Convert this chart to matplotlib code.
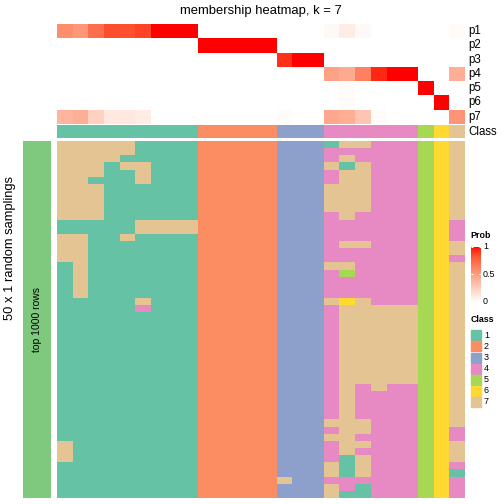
import numpy as np
import matplotlib
matplotlib.use("Agg")
import matplotlib.pyplot as plt
from matplotlib.colors import ListedColormap
from matplotlib.patches import Rectangle

plt.rcParams['font.family'] = ['Liberation Sans', 'DejaVu Sans']

# ---------------- data ----------------
title = "membership heatmap, k = 7"
row_title = "50 x 1 random samplings"
block_label = "top 1000 rows"
prob_names = ["p1", "p2", "p3", "p4", "p5", "p6", "p7"]
class_labels = ["1", "2", "3", "4", "5", "6", "7"]
class_colors = ["#66C2A5", "#FC8D62", "#8DA0CB", "#E78AC3", "#A6D854", "#FFD92F", "#E5C494"]

# consensus class of each of the 26 columns
col_class = [1]*9 + [2]*5 + [3]*3 + [4]*6 + [5, 6, 7]

p1 = [0.58, 0.53, 0.72, 0.85, 0.84, 0.88, 1, 1, 1, 0, 0, 0, 0, 0, 0, 0, 0, 0.03, 0.1, 0.03, 0, 0, 0, 0, 0, 0.02]
p2 = [0, 0, 0, 0, 0, 0, 0, 0, 0, 1, 1, 1, 1, 1, 0, 0, 0, 0, 0, 0, 0, 0, 0, 0, 0, 0]
p3 = [0, 0, 0, 0, 0, 0, 0, 0, 0, 0, 0, 0, 0, 0, 0.93, 1, 1, 0, 0, 0, 0, 0, 0, 0, 0, 0]
p4 = [0, 0, 0, 0, 0, 0, 0, 0, 0, 0, 0, 0, 0, 0, 0, 0, 0, 0.48, 0.44, 0.64, 0.95, 1, 1, 0, 0, 0.42]
p5 = [0, 0, 0, 0, 0, 0, 0, 0, 0, 0, 0, 0, 0, 0, 0, 0, 0, 0, 0.02, 0, 0, 0, 0, 1, 0, 0]
p6 = [0, 0, 0, 0, 0, 0, 0, 0, 0, 0, 0, 0, 0, 0, 0, 0, 0, 0, 0.02, 0, 0, 0, 0, 0, 1, 0]
p7 = [0.38, 0.42, 0.24, 0.12, 0.12, 0.1, 0, 0, 0, 0, 0, 0, 0, 0, 0.02, 0, 0, 0.45, 0.42, 0.3, 0.02, 0, 0, 0, 0, 0.55]

# class membership of each column in each of the 50 samplings (one string per row)
samplings = [
    "77777111122222333177444567",
    "77777111122222333444444567",
    "77771111122222333474444567",
    "77717711122222333717444567",
    "77711711122222333477444567",
    "77111711122222333477444567",
    "77711111122222333777444567",
    "77711111122222333777444567",
    "77711111122222333777444567",
    "77711111122222333777444567",
    "77711111122222333474444567",
    "11111777722222333444444564",
    "11111777722222333444444564",
    "77117111122222333444444564",
    "77111111122222333477444567",
    "77111111122222333444444567",
    "77111111122222333444444564",
    "17111111122222333774444567",
    "17111111122222333454444567",
    "17111111122222333444444567",
    "17111111122222333444444567",
    "17111111122222333444444567",
    "11111711122222333767444567",
    "11111411122222333477777567",
    "11111111122222333477777567",
    "11111111122222333477777567",
    "11111111122222333477777567",
    "11111111122222333477777567",
    "11111111122222333477777567",
    "11111111122222333477777567",
    "11111111122222333477777567",
    "11111111122222333477777567",
    "11111111122222333477777567",
    "11111111122222333477777567",
    "11111111122222333474744567",
    "11111111122222333474444567",
    "11111111122222333474444567",
    "11111111122222333474444567",
    "11111111122222333474444567",
    "11111111122222333777444567",
    "11111111122222333477444564",
    "11111111122222333774444564",
    "71111111122222333477444567",
    "71111111122222333474444567",
    "71111111122222333417444567",
    "11111111122222333717444564",
    "11111111122222333717444561",
    "11111111122222733444444564",
    "11111111122222333741444564",
    "11111111122222333711444564",
]

# ---------------- helpers ----------------
W = H = 504.0
fig = plt.figure(figsize=(5.04, 5.04), dpi=100)


def px_axes(x0, y0, x1, y1):
    ax = fig.add_axes([x0 / W, 1 - y1 / H, (x1 - x0) / W, (y1 - y0) / H])
    ax.set_axis_off()
    return ax


def fx(x):
    return x / W


def fy(y):
    return 1 - y / H


def lab_to_rgb(L, a, b):
    fyv = (L + 16) / 116.0
    fxv = fyv + a / 500.0
    fzv = fyv - b / 200.0

    def finv(t):
        return np.where(t > 6 / 29, t ** 3, 3 * (6 / 29) ** 2 * (t - 4 / 29))
    X = 0.95047 * finv(fxv)
    Y = 1.0 * finv(fyv)
    Z = 1.08883 * finv(fzv)
    r = 3.2406 * X - 1.5372 * Y - 0.4986 * Z
    g = -0.9689 * X + 1.8758 * Y + 0.0415 * Z
    bb = 0.0557 * X - 0.2040 * Y + 1.0570 * Z
    rgb = np.stack([r, g, bb], axis=-1)
    rgb = np.clip(rgb, 0, 1)
    rgb = np.where(rgb <= 0.0031308, 12.92 * rgb, 1.055 * rgb ** (1 / 2.4) - 0.055)
    return np.clip(rgb, 0, 1)


t = np.linspace(0, 1, 256)
white_lab = np.array([100.0, 0.0, 0.0])
red_lab = np.array([53.24, 80.09, 67.20])
labs = white_lab[None, :] + t[:, None] * (red_lab - white_lab)[None, :]
prob_rgb = lab_to_rgb(labs[:, 0], labs[:, 1], labs[:, 2])
prob_rgb[0] = [1, 1, 1]
prob_cmap = ListedColormap(prob_rgb)
class_cmap = ListedColormap(class_colors)

# ---------------- geometry ----------------
X0, X1 = 57, 465
P_TOP, P_BOT = 24, 123.8
C_TOP, C_BOT = 124.6, 138.5
B_TOP, B_BOT = 141, 498

# probability rows
prob = np.array([p1, p2, p3, p4, p5, p6, p7])
ax_p = px_axes(X0, P_TOP, X1, P_BOT)
ax_p.imshow(prob, cmap=prob_cmap, vmin=0, vmax=1, aspect='auto', interpolation='nearest')
row_h = (P_BOT - P_TOP) / 7
for i, name in enumerate(prob_names):
    fig.text(fx(468), fy(P_TOP + row_h * (i + 0.5)), name, fontsize=8.3, ha='left', va='center')

# class annotation row
ax_c = px_axes(X0, C_TOP, X1, C_BOT)
ax_c.imshow(np.array([col_class]) - 1, cmap=class_cmap, vmin=-0.5, vmax=6.5, aspect='auto',
            interpolation='nearest')
fig.text(fx(468), fy((C_TOP + C_BOT) / 2), "Class", fontsize=8.3, ha='left', va='center')

# body
mat = np.array([[int(ch) for ch in row] for row in samplings])
ax_b = px_axes(X0, B_TOP, X1, B_BOT)
ax_b.imshow(mat - 1, cmap=class_cmap, vmin=-0.5, vmax=6.5, aspect='auto', interpolation='nearest')

# left block annotation
ax_g = px_axes(23, B_TOP, 51, B_BOT)
ax_g.add_patch(Rectangle((0, 0), 1, 1, color="#7FC97F", transform=ax_g.transAxes))
ax_g.text(0.5, 0.5, block_label, rotation=90, ha='center', va='center', fontsize=7.5,
          transform=ax_g.transAxes)

# titles
fig.text(fx(261), fy(11), title, fontsize=9.4, ha='center', va='center')
fig.text(fx(10), fy(248), row_title, fontsize=9.3, rotation=90, ha='center', va='center')

# Prob legend
fig.text(fx(470.5), fy(236), "Prob", fontsize=6.4, fontweight='bold', ha='left', va='center')
CB_TOP, CB_BOT = 246.7, 301.7
ax_cb = px_axes(471, CB_TOP, 481, CB_BOT)
grad = np.linspace(1, 0, 200)[:, None]
ax_cb.imshow(grad, cmap=prob_cmap, vmin=0, vmax=1, aspect='auto', interpolation='bilinear',
             extent=[0, 1, 0, 1])
ax_cb.set_xlim(0, 1)
ax_cb.set_ylim(0, 1)
for v in [1.0, 0.5]:
    ax_cb.plot([0, 0.22], [v, v], color='white', lw=0.8, solid_capstyle='butt')
    ax_cb.plot([0.78, 1], [v, v], color='white', lw=0.8, solid_capstyle='butt')
for v, lab in [(1.0, "1"), (0.5, "0.5"), (0.0, "0")]:
    fig.text(fx(483), fy(CB_BOT - v * (CB_BOT - CB_TOP)), lab, fontsize=6.4, ha='left', va='center')

# Class legend
fig.text(fx(470.5), fy(320), "Class", fontsize=6.4, fontweight='bold', ha='left', va='center')
for i, (lab, col) in enumerate(zip(class_labels, class_colors)):
    y0 = 330.3 + 11.1 * i
    fig.patches.append(Rectangle((fx(471), fy(y0 + 10)), 10 / W, 10 / H, color=col,
                                 transform=fig.transFigure, figure=fig))
    fig.text(fx(484), fy(y0 + 5), lab, fontsize=6.4, ha='left', va='center')

fig.savefig("out.png", dpi=100)
